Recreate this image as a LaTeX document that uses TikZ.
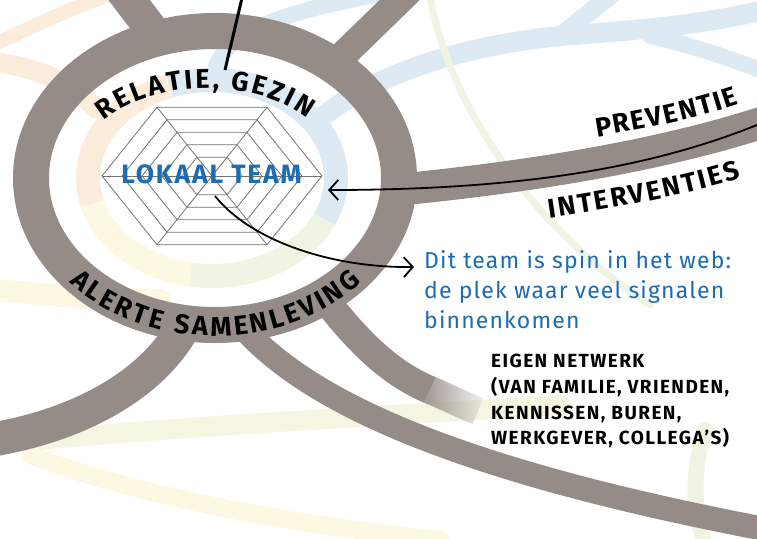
\documentclass[tikz,border=0pt]{standalone}
\usepackage{fontspec}
\setmainfont{Fira Sans}
\usetikzlibrary{decorations.text,arrows.meta,fadings}
\definecolor{ringgray}{RGB}{149,139,135}
\definecolor{teamblue}{RGB}{28,108,178}
\definecolor{hexgray}{RGB}{115,115,115}
\definecolor{pblue}{RGB}{222,234,243}
\definecolor{porange}{RGB}{251,236,220}
\definecolor{pyellow}{RGB}{252,248,226}
\definecolor{pgreen}{RGB}{240,244,226}
\newcommand{\mydescfont}{\fontsize{23}{23}\selectfont\addfontfeatures{LetterSpace=5}}
\newcommand{\myblockfont}{\fontsize{19}{19}\selectfont\bfseries\addfontfeatures{LetterSpace=7.5}}
\newcommand{\myteamfont}{\fontsize{26.5}{26.5}\selectfont\bfseries\addfontfeatures{LetterSpace=7}}
\newcommand{\myarcfont}{\fontsize{27}{27}\selectfont\bfseries}
\begin{document}
\begin{tikzpicture}[x=1pt,y=-1pt,
  pastel/.style={line cap=round},
  band/.style={draw=ringgray,line cap=butt},
  hexline/.style={draw=hexgray,line width=0.8pt,line join=miter},
  conn/.style={draw=black,line width=1.8pt,-{Straight Barb[length=9pt,width=20pt]}},
  arclabel/.style={font=\myarcfont,decorate,decoration={text along path,text align=fit to path,
     text={|\myarcfont|#1}}},
  desc/.style={font=\mydescfont,text=teamblue,anchor=base west,inner sep=0pt},
  block/.style={font=\myblockfont,text=black,anchor=base west,inner sep=0pt}
]
\useasboundingbox (0,0) rectangle (757,538);
\clip (0,0) rectangle (757,538);
\fill[white] (0,0) rectangle (757,538);

% faint background web
\draw[pastel,porange,line width=14pt] (-5,44) .. controls (30,28) and (70,8) .. (112,-6);
\draw[pastel,porange,line width=20pt] (-5,62) .. controls (35,68) and (70,80) .. (95,108);
\draw[pastel,pblue,line width=20pt] (318,120) .. controls (380,70) and (470,45) .. (560,36) .. controls (640,30) and (700,25) .. (765,10);
\draw[pastel,pblue,line width=18pt] (560,36) .. controls (580,20) and (595,8) .. (615,-8);
\draw[pastel,pblue,line width=16pt] (650,36) .. controls (690,45) and (730,58) .. (765,72);
\draw[pastel,pblue,line width=16pt] (215,70) .. controls (225,35) and (270,15) .. (375,-5);
\draw[pastel,pgreen,line width=7pt] (430,-5) .. controls (445,90) and (520,220) .. (650,305);
\draw[pastel,pyellow,line width=22pt] (-5,290) .. controls (50,295) and (100,300) .. (160,300);
\draw[pastel,pgreen!60!pyellow,line width=20pt] (40,440) .. controls (200,425) and (400,415) .. (560,405);
\draw[pastel,pyellow,line width=18pt] (30,455) .. controls (150,500) and (300,525) .. (440,540);
\draw[pastel,pgreen,line width=16pt] (705,430) .. controls (690,480) and (695,510) .. (705,545);

% inner pastel band
\draw[pblue,line width=24pt] ([shift={(212,178)}]250:124 and 98) arc[start angle=250,end angle=385,x radius=124,y radius=98];
\draw[pgreen,line width=24pt] ([shift={(212,178)}]25:124 and 98) arc[start angle=25,end angle=100,x radius=124,y radius=98];
\draw[pyellow,line width=24pt] ([shift={(212,178)}]100:124 and 98) arc[start angle=100,end angle=165,x radius=124,y radius=98];
\draw[porange,line width=24pt] ([shift={(212,178)}]165:124 and 98) arc[start angle=165,end angle=250,x radius=124,y radius=98];

% grey web bands
\draw[band,line width=33pt] (120,-12) -- (152,30);
\draw[band,line width=28pt] (412,-12) -- (340,58);
\draw[band,line width=32pt] (395,190) .. controls (500,180) and (650,160) .. (770,120);
\draw[band,line width=34pt] (182,330) .. controls (150,385) and (80,425) .. (-10,440);
\draw[band,line width=24pt] (247,332) .. controls (320,410) and (480,475) .. (770,530);
\draw[band,line width=28pt] (322,295) .. controls (360,345) and (392,374) .. (430,390);
\draw[band,line width=28pt,path fading=east] (430,390) .. controls (445,396) and (460,404) .. (478,411);
\draw[ringgray,line width=36pt] (215,178) ellipse[x radius=184,y radius=147];

% spider web hexagon
\foreach \s in {1,0.818,0.636,0.455,0.273}{
  \draw[hexline] (212-110*\s,176) -- (212-55*\s,176-68.7*\s) -- (212+55*\s,176-68.7*\s)
     -- (212+110*\s,176) -- (212+55*\s,176+68.7*\s) -- (212-55*\s,176+68.7*\s) -- cycle;
}
\draw[hexline] (102,176) -- (322,176);
\draw[hexline] (157,107.3) -- (267,244.7);
\draw[hexline] (267,107.3) -- (157,244.7);
\node[font=\myteamfont,text=teamblue,inner sep=0pt] (team) at (211.5,174) {LOKAAL TEAM};

% curved labels
\path[arclabel={RELATIE{,} GEZIN}] ([shift={(207,180)}]220:135 and 92) arc[start angle=220,end angle=318,x radius=135,y radius=92];
\path[arclabel={ALERTE SAMENLEVING}] ([shift={(215,178)}]138.6:194 and 158) arc[start angle=138.6,end angle=41.1,x radius=194,y radius=158];
\path[arclabel={PREVENTIE}] (597,137) .. controls (645,129) and (695,119) .. (739,104);
\path[arclabel={INTERVENTIES}] (549,218) .. controls (610,209) and (680,197) .. (741,178);

% texts
\node[desc] (desc1) at (424,268) {Dit team is spin in het web:};
\node[desc] (desc2) at (424,298) {de plek waar veel signalen};
\node[desc] (desc3) at (424,328) {binnenkomen};
\node[block] (net1) at (491,367) {EIGEN NETWERK};
\node[block] (net2) at (491,393) {(VAN FAMILIE, VRIENDEN,};
\node[block] (net3) at (491,419) {KENNISSEN, BUREN,};
\node[block] (net4) at (491,444) {WERKGEVER, COLLEGA’S)};

% connectors
\coordinate (rightedge) at (757,125);
\coordinate (hexright) at (328,190);
\coordinate (spin) at (215,196);
\coordinate (desctip) at (414,267);
\coordinate (topend) at (242,-2);
\coordinate (topline) at (225,70);
\draw[conn] (rightedge) .. controls (650,168) and (520,190) .. (hexright);
\draw[conn] (spin) .. controls (250,240) and (330,268) .. (desctip);
\draw[line width=3pt] (topend) -- (topline);
\end{tikzpicture}
\end{document}
